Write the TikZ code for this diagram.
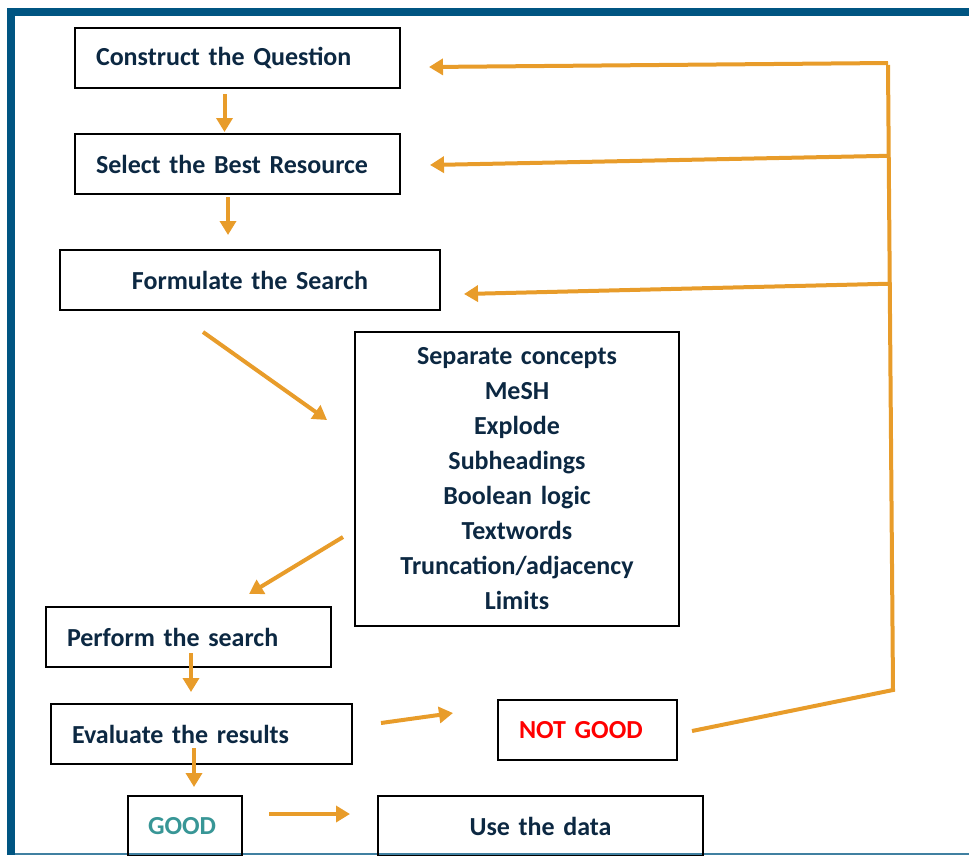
\documentclass[tikz,border=0pt]{standalone}
\usepackage{fontspec}
\setmainfont{Carlito}
\usepackage{xcolor}
\usetikzlibrary{calc,arrows.meta}
\definecolor{frameblue}{RGB}{0,85,130}
\definecolor{textnavy}{RGB}{12,40,66}
\definecolor{flow}{RGB}{232,156,42}
\definecolor{goodteal}{RGB}{56,150,150}

\begin{document}
\begin{tikzpicture}[x=1pt,y=-1pt,
        box/.style={draw=black, line width=2pt, minimum height=60pt, inner xsep=21pt, inner ysep=0pt,
            align=left, text=textnavy, font=\fontsize{26}{35}\selectfont\bfseries},
        arr/.style={draw=flow, line width=4pt, -{Triangle[length=14pt,width=16pt]}},
        fbline/.style={draw=flow, line width=4pt}]
    \useasboundingbox (0,0) rectangle (969,855);

    \draw[frameblue!75!white, line width=2pt] (11,854) -- (969,854);
    \draw[frameblue, line width=8pt] (969,12) -- (11,12) -- (11,855);

    \node[box, text width=283pt] (cq) at (237.5,58) {Construct the Question};
    \node[box, text width=283pt] (sbr) at (237.5,164) {Select the Best Resource};
    \node[box, text width=338pt, align=center] (fs) at (250,280) {Formulate the Search};
    \node[box, text width=282pt, minimum height=294pt, align=center] (sc) at (517,479)
        {Separate concepts\\MeSH\\Explode\\Subheadings\\Boolean logic\\Textwords\\Truncation/adjacency\\Limits};
    \node[box, text width=243pt] (ps) at (188.5,637) {Perform the search};
    \node[box, text width=259pt] (ev) at (201.5,734) {Evaluate the results};
    \node[box, text width=137pt, text=red] (ng) at (587.5,730) {NOT GOOD};
    \node[box, text width=74pt, text=goodteal, inner xsep=20pt] (good) at (185,826) {GOOD};
    \node[box, text width=283pt, align=center] (use) at (540.5,826) {Use the data};

    \draw[arr] ([shift={(-13,5)}]cq.south) -- ([shift={(-13,-1)}]sbr.north);
    \draw[arr] ([shift={(-9.5,2)}]sbr.south) -- ([shift={(-22,-14)}]fs.north);
    \draw[arr] ([shift={(-47,21)}]fs.south) -- ([shift={(-27,-59)}]sc.west);
    \draw[arr] ([shift={(-11,58)}]sc.west) -- ([shift={(60.5,-12)}]ps.north);
    \draw[arr] ([shift={(2.5,-15)}]ps.south) -- ([shift={(-10.5,-11)}]ev.north);
    \draw[arr] ([shift={(-7.5,-17)}]ev.south) -- ([shift={(9,-8)}]good.north);
    \draw[arr] ([shift={(28,-11)}]ev.east) -- ([shift={(-44,-17)}]ng.west);
    \draw[arr] ([shift={(26,-12)}]good.east) -- ([shift={(-27,-12)}]use.west);

    \coordinate (fbtop) at (888,63);
    \coordinate (fbbot) at (893,690);
    \draw[fbline] ([shift={(14,1)}]ng.east) -- (fbbot) -- ([yshift=-2]fbtop);
    \draw[arr] (fbtop) -- ([shift={(28,9)}]cq.east);
    \draw[arr] ($(fbtop)!0.148!(fbbot)$) -- ([shift={(29,1)}]sbr.east);
    \draw[arr] ($(fbtop)!0.352!(fbbot)$) -- ([shift={(23,14)}]fs.east);
\end{tikzpicture}
\end{document}
